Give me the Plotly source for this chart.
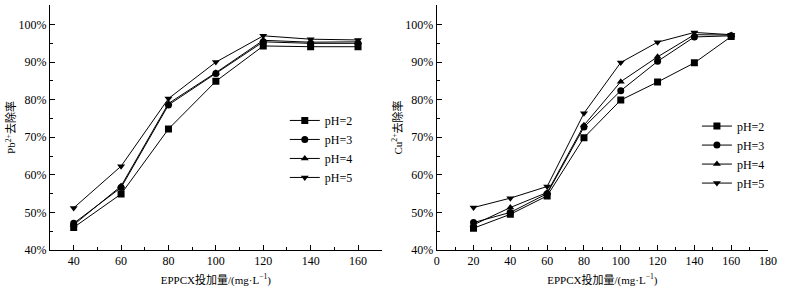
import plotly.graph_objects as go

# ---- data ----
pb_dose = [40, 60, 80, 100, 120, 140, 160]
pb_ph2 = [46.0, 54.9, 72.2, 84.9, 94.3, 94.1, 94.1]
pb_ph3 = [47.1, 56.6, 78.6, 87.0, 95.4, 95.0, 95.0]
pb_ph4 = [46.7, 57.0, 79.0, 87.2, 95.8, 95.3, 95.4]
pb_ph5 = [51.2, 62.3, 80.3, 90.0, 97.0, 96.1, 95.9]

cu_dose = [20, 40, 60, 80, 100, 120, 140, 160]
cu_ph2 = [45.8, 49.5, 54.4, 69.9, 79.9, 84.7, 89.8, 96.8]
cu_ph3 = [47.3, 50.0, 55.0, 72.7, 82.4, 90.2, 96.7, 97.0]
cu_ph4 = [46.7, 51.3, 55.3, 73.2, 84.8, 91.4, 97.3, 97.2]
cu_ph5 = [51.3, 53.8, 56.9, 76.4, 89.9, 95.3, 97.9, 97.3]

series_names = ["pH=2", "pH=3", "pH=4", "pH=5"]
symbols = ["square", "circle", "triangle-up", "triangle-down"]

FONT = "Liberation Serif, 'Times New Roman', 'Noto Sans CJK SC', serif"

fig = go.Figure()

for name, sym, ys in zip(series_names, symbols, [pb_ph2, pb_ph3, pb_ph4, pb_ph5]):
    fig.add_trace(go.Scatter(
        x=pb_dose, y=ys, name=name, mode="lines+markers",
        line=dict(color="black", width=1),
        marker=dict(symbol=sym, size=7, color="black"),
        xaxis="x", yaxis="y", legend="legend"))

for name, sym, ys in zip(series_names, symbols, [cu_ph2, cu_ph3, cu_ph4, cu_ph5]):
    fig.add_trace(go.Scatter(
        x=cu_dose, y=ys, name=name, mode="lines+markers",
        line=dict(color="black", width=1),
        marker=dict(symbol=sym, size=7, color="black"),
        xaxis="x2", yaxis="y2", legend="legend2"))

axis_common = dict(
    showline=True, linecolor="black", linewidth=1,
    ticks="inside", ticklen=5, tickwidth=1, tickcolor="black",
    showgrid=False, zeroline=False, automargin=False,
    tickfont=dict(family=FONT, size=12, color="black"),
)

def minor(dt, t0):
    return dict(ticks="inside", ticklen=3, tickwidth=1, tickcolor="black", dtick=dt, tick0=t0)

xtitle = "EPPCX投加量/(mg·L<sup>−1</sup>)"
TF = dict(family=FONT, size=11, color="black")

fig.update_layout(
    width=785, height=293,
    margin=dict(l=50, r=17, t=5, b=42.5),
    paper_bgcolor="white", plot_bgcolor="white",
    font=dict(family=FONT, size=12, color="black"),
    xaxis=dict(domain=[0, 0.462], range=[30, 170], tickmode="linear", tick0=40, dtick=20,
               minor=minor(10, 30),
               title=dict(text=xtitle, font=TF, standoff=8),
               **axis_common),
    yaxis=dict(domain=[0, 1], range=[40, 105.2], tickmode="linear", tick0=40, dtick=10,
               ticksuffix="%", anchor="x",
               minor=minor(5, 40),
               title=dict(text="Pb<sup>2+</sup>去除率", font=TF, standoff=0),
               **axis_common),
    xaxis2=dict(domain=[0.5386, 1], range=[0, 180], tickmode="linear", tick0=0, dtick=20, anchor="y2",
                minor=minor(10, 0),
                title=dict(text=xtitle, font=TF, standoff=8),
                **axis_common),
    yaxis2=dict(domain=[0, 1], range=[40, 105.2], tickmode="linear", tick0=40, dtick=10,
                ticksuffix="%", anchor="x2",
                minor=minor(5, 40),
                title=dict(text="Cu<sup>2+</sup>去除率", font=TF, standoff=0),
                **axis_common),
    legend=dict(x=0.327, y=0.588, xanchor="left", yanchor="top",
                bgcolor="rgba(0,0,0,0)", itemwidth=30,
                font=dict(family=FONT, size=12, color="black")),
    legend2=dict(x=0.901, y=0.565, xanchor="left", yanchor="top",
                 bgcolor="rgba(0,0,0,0)", itemwidth=30,
                 font=dict(family=FONT, size=12, color="black")),
)

fig.write_html("out.html", config={"displayModeBar": False},
               post_script="document.body.style.margin='0';")
